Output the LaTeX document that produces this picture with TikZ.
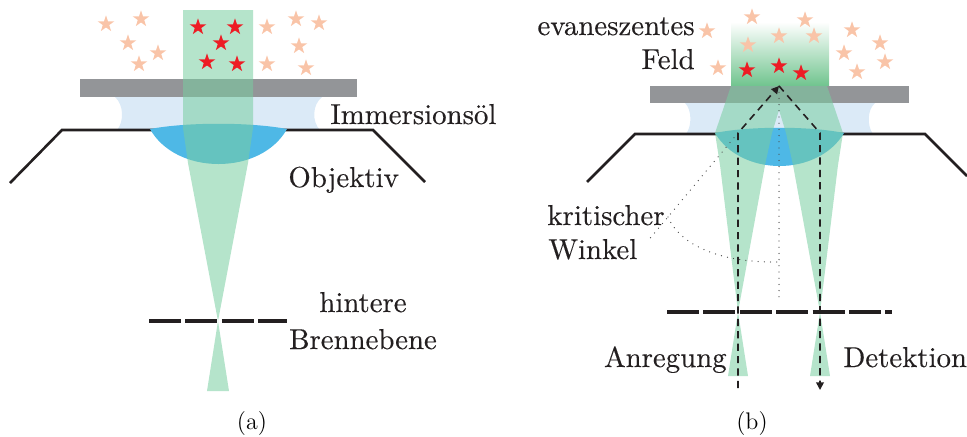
\documentclass[tikz,border=0pt]{standalone}
\usepackage{fontspec}
\usetikzlibrary{arrows.meta}
\newfontfamily\lblfont{lmroman10-regular.otf}[FakeBold=0.3]

\definecolor{inkblack}{RGB}{35,31,32}
\definecolor{plategray}{RGB}{147,149,152}
\definecolor{oilblue}{RGB}{219,234,247}
\definecolor{lensblue}{RGB}{78,184,230}
\definecolor{beamgreen}{RGB}{120,205,160}
\definecolor{fieldgreen}{RGB}{112,196,142}
\definecolor{starpeach}{RGB}{249,196,168}
\definecolor{starred}{RGB}{237,28,36}

\tikzset{
  lbl/.style={inner sep=0pt, font=\lblfont\fontsize{14.4}{17}\selectfont, text=inkblack},
  captxt/.style={inner sep=0pt, font=\fontsize{12}{14}\selectfont},
  objline/.style={draw=inkblack, line width=1.3pt, line join=miter},
  focalplane/.style={draw=inkblack, line width=1.7pt, dash pattern=on 16pt off 2.2pt},
  raypath/.style={draw=inkblack, line width=0.8pt, dash pattern=on 3.6pt off 2.6pt},
  guideline/.style={draw=black!70, line width=0.65pt, line cap=round, dash pattern=on 0pt off 3.1pt},
  beamfill/.style={fill=beamgreen, fill opacity=0.55},
  rayend/.style={-{Triangle[length=3.8pt,width=3.8pt]}},
  pics/fstar/.style={code={
    \fill[#1] (-90:8.7) -- (-54:3.4) -- (-18:8.7) -- (18:3.4) -- (54:8.7) -- (90:3.4)
      -- (126:8.7) -- (162:3.4) -- (198:8.7) -- (234:3.4) -- cycle;}},
}

\begin{document}
\begin{tikzpicture}[x=0.5pt, y=-0.5pt]
\useasboundingbox (0,0) rectangle (967,436);

% ---------------- (a) wide-field illumination ----------------
\fill[plategray] (80,79) rectangle (357,97);
\fill[oilblue] (115,97) -- (322,97) .. controls (312,105) and (312,122) .. (320,130)
  -- (117,130) .. controls (124,122) and (124,105) .. (115,97) -- cycle;
\draw[objline] (10,183) -- (62,130) -- (373,130) -- (425,182);
\fill[lensblue] (150,129) .. controls (163,152) and (190,164) .. (218.5,164)
  .. controls (247,164) and (274,152) .. (287,129)
  .. controls (250,122) and (187,122) .. (150,129) -- cycle;
\fill[beamfill] (183,10) -- (253,10) -- (253,128) -- (248,163) -- (218,321)
  -- (229,391) -- (207,391) -- (218,321) -- (188,163) -- (183,128) -- cycle;
\draw[focalplane] (149,321) -- (287,321);

\foreach \p in {(106,24),(141,19),(128,43),(158,53),(139,64),(267,27),
                (296,19),(319,23),(299,46),(267,64),(306,68)}
  \pic at \p {fstar=starpeach};
\foreach \p in {(198,27),(235,27),(221,43),(207,62),(237,64)}
  \pic at \p {fstar=starred};

\node[lbl, anchor=base west] (oil) at (330,124) {Immersionsöl};
\node[lbl, anchor=base west] (obj) at (288,187) {Objektiv};
\node[lbl, anchor=base] (bfpA) at (363,312) {hintere};
\node[lbl, anchor=base] (bfpB) at (363,349) {Brennebene};
\node[captxt, anchor=base] (capa) at (252,429) {(a)};

% ---------------- (b) total internal reflection ----------------
\shade[top color=white, bottom color=fieldgreen] (731,22) rectangle (829,86);
\fill[plategray] (650,86) rectangle (909,103);
\fill[oilblue] (685,103) -- (875,103) .. controls (867,110) and (867,126) .. (873,134)
  -- (686,134) .. controls (692,126) and (692,110) .. (685,103) -- cycle;
\draw[objline] (587,182) -- (635,134) -- (925,134) -- (967,176);
\fill[lensblue] (715,133) .. controls (728,155) and (754,166) .. (779.5,166)
  .. controls (805,166) and (831,155) .. (844,133)
  .. controls (810,126) and (749,126) .. (715,133) -- cycle;
\fill[beamfill]
  (731,86) -- (785,86) -- (779,110) -- (772,133) -- (765,165) -- (738,312)
  -- (748,376) -- (728,376) -- (738,312) -- (720,165) -- (715,133) -- cycle
  (773,86) -- (827,86) -- (843,133) -- (838,165) -- (820,312) -- (830,376)
  -- (810,376) -- (820,312) -- (793,165) -- (786,133) -- (779,110) -- cycle;
\draw[focalplane] (667,312) -- (892,312);

\coordinate (apex) at (779,86);
\coordinate (inLow) at (738,388);
\coordinate (inBend) at (738,133);
\coordinate (outBend) at (820,133);
\coordinate (outLow) at (820,390);
\coordinate (normalEnd) at (779,297);
\coordinate (extEnd) at (647,242);
\coordinate (arcStart) at (668,217);
\coordinate (arcEnd) at (779,262);

\draw[guideline] (apex) -- (normalEnd);
\draw[guideline] (inBend) -- (extEnd);
\draw[guideline] (arcStart) .. controls (680,245) and (720,263) .. (arcEnd);
\draw[raypath, rayend] (inLow) -- (inBend) -- (apex);
\draw[raypath, rayend] (apex) -- (outBend) -- (outLow);

\foreach \p in {(752,17),(805,20),(707,31),(779,36),(814,36),(748,45),
                (852,30),(880,43),(844,53),(885,62),(857,72),(718,68)}
  \pic at \p {fstar=starpeach};
\foreach \p in {(747,70),(779,66),(801,73)}
  \pic at \p {fstar=starred};

\node[lbl, anchor=base east] (evA) at (695,35) {evaneszentes};
\node[lbl, anchor=base east] (evB) at (695,69) {Feld};
\node[lbl, anchor=base west] (critA) at (547,225) {kritischer};
\node[lbl, anchor=base west] (critB) at (548,259) {Winkel};
\node[lbl, anchor=base east] (exc) at (727,367) {Anregung};
\node[lbl, anchor=base west] (det) at (843,367) {Detektion};
\node[captxt, anchor=base] (capb) at (752,429) {(b)};
\end{tikzpicture}
\end{document}
